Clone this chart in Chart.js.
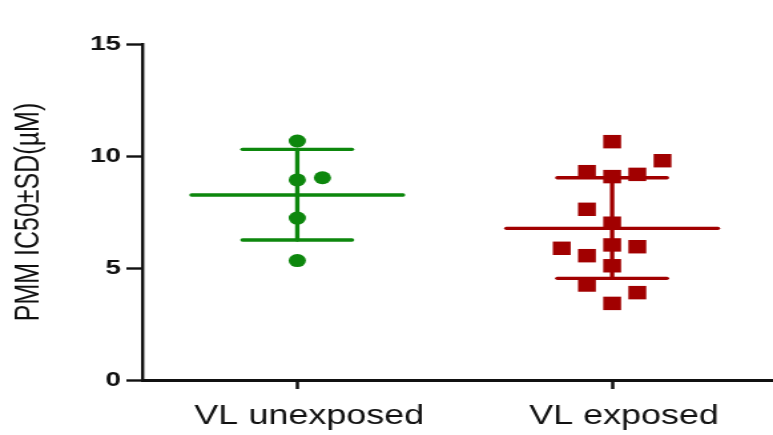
<!DOCTYPE html>
<html>
<head>
<meta charset="utf-8">
<script src="https://cdn.jsdelivr.net/npm/chart.js@4.4.0/dist/chart.umd.min.js"></script>
<style>
  html, body { margin: 0; padding: 0; background: #ffffff; overflow: hidden; }
  /* the figure is drawn on a narrower canvas and widened horizontally */
  #plot { display: block; transform: scaleX(1.3305); transform-origin: 0 0; }
</style>
</head>
<body>
<canvas id="plot" width="581" height="435"></canvas>
<script>
// Groups on the x axis
const groups = ['VL unexposed', 'VL exposed'];
const yTicks = [0, 5, 10, 15];

// Individual PMM IC50 values (µM) and their side-by-side column in the dot plot
const unexposedValues  = [10.67, 8.93, 9.03, 7.23, 5.33];
const unexposedColumns = [0, 0, 1, 0, 0];
const exposedValues  = [10.64, 9.79, 9.30, 9.08, 9.18, 7.62, 7.00, 5.88, 6.03, 5.95, 5.55, 5.10, 4.24, 3.90, 3.42];
const exposedColumns = [0, 2, -1, 0, 1, -1, 0, -2, 0, 1, -1, 0, -1, 1, 0];

// Group summaries: mean and mean ± SD
const groupMeans   = [8.26, 6.77];
const groupUpperSD = [10.30, 9.03];
const groupLowerSD = [6.25, 4.54];

const GREEN = '#0d870d';
const RED = '#a10000';
const INK = '#111111';
const FONT = "'Liberation Sans', Arial, Helvetica, sans-serif";

const COL_STEP = 0.08;      // horizontal spacing between stacked dots (x units)
const MEAN_HALF = 0.336;    // half length of the mean bar
const CAP_HALF = 0.174;     // half length of the SD caps

function dotData(values, cols, groupIndex) {
  return values.map((v, i) => ({ x: groupIndex + 1 + cols[i] * COL_STEP, y: v }));
}

function summaryLines(gi, color) {
  const g = gi + 1;
  const base = {
    type: 'line', showLine: true, borderColor: color, borderWidth: 3.3,
    borderCapStyle: 'round', pointRadius: 0, fill: false, order: 2
  };
  return [
    Object.assign({}, base, { data: [{ x: g - MEAN_HALF, y: groupMeans[gi] }, { x: g + MEAN_HALF, y: groupMeans[gi] }] }),
    Object.assign({}, base, { data: [{ x: g - CAP_HALF, y: groupUpperSD[gi] }, { x: g + CAP_HALF, y: groupUpperSD[gi] }] }),
    Object.assign({}, base, { data: [{ x: g - CAP_HALF, y: groupLowerSD[gi] }, { x: g + CAP_HALF, y: groupLowerSD[gi] }] }),
    Object.assign({}, base, { data: [{ x: g, y: groupLowerSD[gi] }, { x: g, y: groupUpperSD[gi] }] })
  ];
}

const datasets = [
  {
    type: 'scatter', data: dotData(unexposedValues, unexposedColumns, 0),
    pointStyle: 'circle', pointRadius: 6.5, pointHoverRadius: 6.5,
    backgroundColor: GREEN, borderColor: GREEN, borderWidth: 0, order: 0
  },
  {
    type: 'scatter', data: dotData(exposedValues, exposedColumns, 1),
    pointStyle: 'rect', pointRadius: 9.5, pointHoverRadius: 9.5,
    backgroundColor: RED, borderColor: RED, borderWidth: 0, order: 0
  },
  ...summaryLines(0, GREEN),
  ...summaryLines(1, RED)
];

new Chart(document.getElementById('plot'), {
  type: 'scatter',
  data: { datasets },
  options: {
    responsive: false,
    animation: false,
    devicePixelRatio: 1,
    layout: { autoPadding: false, padding: { top: 44, right: 0, bottom: 0, left: 0 } },
    plugins: { legend: { display: false }, tooltip: { enabled: false } },
    scales: {
      x: {
        type: 'linear',
        min: 0.508,
        max: 2.511,
        afterBuildTicks: (scale) => { scale.ticks = [{ value: 1 }, { value: 2 }]; },
        afterFit: (scale) => { scale.height = 55; },
        ticks: {
          callback: (v) => groups[Math.round(v) - 1],
          color: INK,
          font: { family: FONT, size: 27 },
          padding: 11,
          labelOffset: 9,
          maxRotation: 0,
          autoSkip: false
        },
        grid: {
          display: true, drawOnChartArea: false, drawTicks: true,
          tickLength: 9, tickColor: INK, tickWidth: 2.5
        },
        border: { display: true, color: INK, width: 3 }
      },
      y: {
        type: 'linear',
        min: 0,
        max: 15,
        afterBuildTicks: (scale) => { scale.ticks = yTicks.map(v => ({ value: v })); },
        afterFit: (scale) => { scale.width = 107; },
        ticks: {
          color: INK,
          font: { family: FONT, size: 21, weight: 'bold' },
          padding: 4
        },
        grid: {
          display: true, drawOnChartArea: false, drawTicks: true,
          tickLength: 12, tickColor: INK, tickWidth: 2.4
        },
        border: { display: true, color: INK, width: 2.4 },
        title: {
          display: true,
          text: 'PMM IC50±SD(µM)',
          color: INK,
          font: { family: FONT, size: 25 },
          padding: { top: 7, bottom: 0 }
        }
      }
    }
  }
});
</script>
</body>
</html>
